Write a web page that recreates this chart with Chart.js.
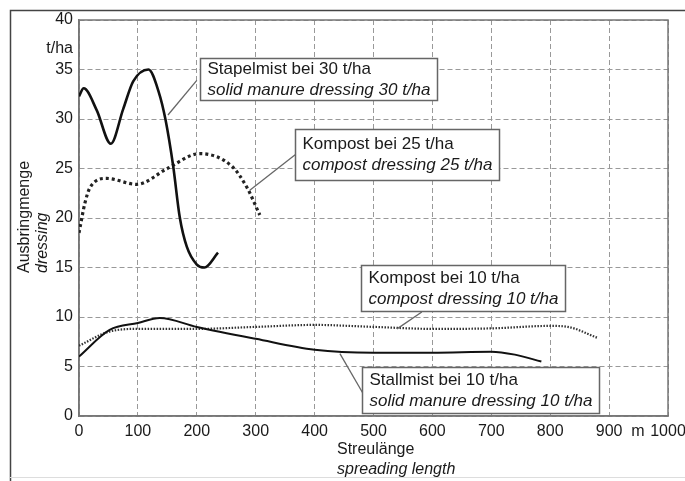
<!DOCTYPE html>
<html>
<head>
<meta charset="utf-8">
<script src="https://cdn.jsdelivr.net/npm/chart.js@4.4.0/dist/chart.umd.min.js"></script>
<style>
  html, body { margin: 0; padding: 0; background: #fff; }
  #wrap { position: relative; width: 685px; height: 481px; }
</style>
</head>
<body>
<div id="wrap"><canvas id="chart" width="685" height="481"></canvas></div>
<script>
// values (x in m, y in t/ha)
const stapel30X = [0, 8, 30, 54, 75, 92, 118, 135, 147, 160, 171, 183, 200, 213, 236];
const stapel30Y = [32.3, 33.1, 30.9, 27.5, 31.0, 33.8, 35.0, 32.8, 29.9, 25.2, 20.1, 17.1, 15.3, 15.0, 16.5];

const kompost25X = [0, 10, 19, 47, 98, 150, 205, 260, 285, 307];
const kompost25Y = [18.5, 21.5, 23.1, 24.0, 23.4, 25.0, 26.5, 25.2, 23.1, 20.3];

const stall10X = [0, 52, 100, 137, 200, 300, 400, 500, 600, 700, 740, 785];
const stall10Y = [6.0, 8.7, 9.4, 9.9, 9.0, 7.8, 6.7, 6.4, 6.4, 6.5, 6.2, 5.5];

const kompost10X = [0, 50, 100, 200, 300, 400, 500, 600, 700, 800, 830, 880];
const kompost10Y = [7.1, 8.5, 8.8, 8.8, 9.0, 9.2, 9.0, 8.8, 8.85, 9.1, 9.0, 7.9];

const xRange = [0, 1000];
const yRange = [0, 40];
const xStep = 100;
const yStep = 5;

const FONT = "'Liberation Sans', Arial, sans-serif";

function pts(xs, ys) {
  return xs.map(function (x, i) { return { x: x, y: ys[i] }; });
}

// callout boxes: top-left corner and leader line in data units
const notes = [
  { lines: ["Stapelmist bei 30 t/ha", "solid manure dressing 30 t/ha"], at: [205, 36.2], h: 42, from: [200, 33.9], to: [151, 30.4] },
  { lines: ["Kompost bei 25 t/ha", "compost dressing 25 t/ha"], at: [367, 29.0], h: 51, from: [367, 26.4], to: [290, 22.8] },
  { lines: ["Kompost bei 10 t/ha", "compost dressing 10 t/ha"], at: [479, 15.25], h: 46, from: [582, 10.5], to: [540, 8.8] },
  { lines: ["Stallmist bei 10 t/ha", "solid manure dressing 10 t/ha"], at: [480, 4.95], h: 46, from: [482, 2.3], to: [443, 6.3] },
];

const framePlugin = {
  id: "frame",
  beforeDatasetsDraw: function (chart) {
    const ctx = chart.ctx;
    const a = chart.chartArea;
    ctx.save();
    ctx.strokeStyle = "#777";
    ctx.lineWidth = 1.5;
    ctx.strokeRect(a.left, a.top, a.right - a.left, a.bottom - a.top);
    ctx.restore();
  },
  afterDraw: function (chart) {
    const ctx = chart.ctx;
    const xs = chart.scales.x;
    const ys = chart.scales.y;
    ctx.save();

    // outer figure frame
    ctx.strokeStyle = "#444";
    ctx.lineWidth = 1.5;
    ctx.beginPath();
    ctx.moveTo(10.5, 481);
    ctx.lineTo(10.5, 10.5);
    ctx.lineTo(685, 10.5);
    ctx.stroke();
    ctx.strokeStyle = "#ddd";
    ctx.lineWidth = 1;
    ctx.beginPath();
    ctx.moveTo(10, 477.5);
    ctx.lineTo(685, 477.5);
    ctx.stroke();

    ctx.fillStyle = "#1a1a1a";
    ctx.textBaseline = "middle";

    // y axis title
    ctx.save();
    ctx.translate(25, 273);
    ctx.rotate(-Math.PI / 2);
    ctx.textAlign = "left";
    ctx.font = "16px " + FONT;
    ctx.fillText("Ausbringmenge", 0, 0);
    ctx.restore();
    ctx.save();
    ctx.translate(43, 273);
    ctx.rotate(-Math.PI / 2);
    ctx.textAlign = "left";
    ctx.font = "italic 16px " + FONT;
    ctx.fillText("dressing", 0, 0);
    ctx.restore();

    // unit labels
    ctx.font = "16px " + FONT;
    ctx.textAlign = "right";
    ctx.fillText("t/ha", 73, 49);
    ctx.textAlign = "center";
    ctx.fillText("m", 638, 432);

    // x axis title
    ctx.font = "16px " + FONT;
    ctx.textAlign = "left";
    ctx.fillText("Streulänge", 337, 450);
    ctx.font = "italic 16px " + FONT;
    ctx.fillText("spreading length", 337, 470);

    // callouts
    notes.forEach(function (n) {
      const fx = xs.getPixelForValue(n.from[0]);
      const fy = ys.getPixelForValue(n.from[1]);
      const tx = xs.getPixelForValue(n.to[0]);
      const ty = ys.getPixelForValue(n.to[1]);
      ctx.strokeStyle = "#666";
      ctx.lineWidth = 1.3;
      ctx.beginPath();
      ctx.moveTo(fx, fy);
      ctx.lineTo(tx, ty);
      ctx.stroke();

      const left = Math.round(xs.getPixelForValue(n.at[0])) + 0.5;
      const top = Math.round(ys.getPixelForValue(n.at[1])) + 0.5;
      ctx.font = "17px " + FONT;
      const w1 = ctx.measureText(n.lines[0]).width;
      ctx.font = "italic 17px " + FONT;
      const w2 = ctx.measureText(n.lines[1]).width;
      const w = Math.round(Math.max(w1, w2) + 14);
      ctx.fillStyle = "#fff";
      ctx.fillRect(left, top, w, n.h);
      ctx.strokeStyle = "#666";
      ctx.lineWidth = 1.5;
      ctx.strokeRect(left, top, w, n.h);

      const mid = top + n.h / 2;
      ctx.fillStyle = "#1a1a1a";
      ctx.textAlign = "left";
      ctx.font = "17px " + FONT;
      ctx.fillText(n.lines[0], left + 7, mid - 10.5);
      ctx.font = "italic 17px " + FONT;
      ctx.fillText(n.lines[1], left + 7, mid + 10.5);
    });

    ctx.restore();
  },
};

Chart.defaults.font.family = FONT;

new Chart(document.getElementById("chart"), {
  type: "line",
  data: {
    datasets: [
      {
        label: "Stapelmist bei 30 t/ha",
        data: pts(stapel30X, stapel30Y),
        borderColor: "#111",
        borderWidth: 2.6,
        pointRadius: 0,
        cubicInterpolationMode: "monotone",
        fill: false,
      },
      {
        label: "Kompost bei 25 t/ha",
        data: pts(kompost25X, kompost25Y),
        borderColor: "#222",
        borderWidth: 3.2,
        borderDash: [3, 3],
        pointRadius: 0,
        cubicInterpolationMode: "monotone",
        fill: false,
      },
      {
        label: "Stallmist bei 10 t/ha",
        data: pts(stall10X, stall10Y),
        borderColor: "#111",
        borderWidth: 2,
        pointRadius: 0,
        cubicInterpolationMode: "monotone",
        fill: false,
      },
      {
        label: "Kompost bei 10 t/ha",
        data: pts(kompost10X, kompost10Y),
        borderColor: "#333",
        borderWidth: 2.2,
        borderDash: [1.5, 1.5],
        pointRadius: 0,
        cubicInterpolationMode: "monotone",
        fill: false,
      },
    ],
  },
  options: {
    responsive: false,
    animation: false,
    layout: {
      padding: { top: 20, right: 17, left: 0, bottom: 0 },
    },
    plugins: {
      legend: { display: false },
      tooltip: { enabled: false },
    },
    scales: {
      x: {
        type: "linear",
        min: xRange[0],
        max: xRange[1],
        afterFit: function (scale) {
          scale.height = 65;
          scale.paddingLeft = 0;
          scale.paddingRight = 0;
        },
        ticks: {
          stepSize: xStep,
          color: "#1a1a1a",
          font: { size: 16 },
          padding: 6,
          maxRotation: 0,
          callback: function (value) { return String(value); },
        },
        grid: { color: "#999", lineWidth: 1, drawTicks: false },
        border: { color: "#777", width: 1.5, dash: [5, 3] },
      },
      y: {
        type: "linear",
        min: yRange[0],
        max: yRange[1],
        afterFit: function (scale) {
          scale.width = 79;
          scale.paddingTop = 0;
          scale.paddingBottom = 0;
        },
        ticks: {
          stepSize: yStep,
          color: "#1a1a1a",
          font: { size: 16 },
          padding: 6,
          callback: function (value) { return String(value); },
        },
        grid: { color: "#999", lineWidth: 1, drawTicks: false },
        border: { color: "#777", width: 1.5, dash: [5, 3] },
      },
    },
  },
  plugins: [framePlugin],
});
</script>
</body>
</html>
